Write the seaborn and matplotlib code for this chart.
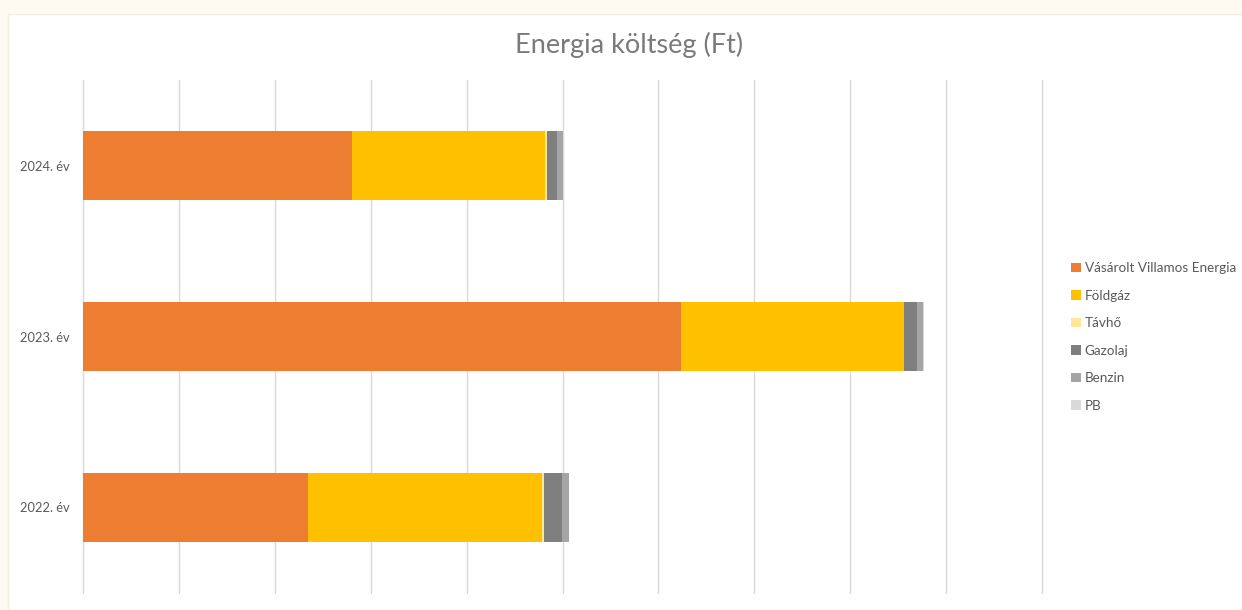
import numpy as np
import pandas as pd
import matplotlib
matplotlib.use('Agg')
import matplotlib.pyplot as plt
import seaborn as sns
from matplotlib.patches import Patch, Rectangle

# Data (million Ft)
years = ['2024. év', '2023. év', '2022. év']
series = ['Vásárolt Villamos Energia', 'Földgáz', 'Távhő', 'Gazolaj', 'Benzin', 'PB']
villamos = [56.1, 124.7, 46.9]
foldgaz = [40.2, 46.5, 48.8]
tavho = [0.5, 0.1, 0.4]
gazolaj = [2.1, 2.7, 3.75]
benzin = [1.25, 1.25, 1.45]
pb = [0.1, 0.1, 0.1]
colors = ['#ED7D31', '#FFC000', '#FFE699', '#7F7F7F', '#A5A5A5', '#D9D9D9']

df = pd.DataFrame({'Év': years, 'Vásárolt Villamos Energia': villamos, 'Földgáz': foldgaz,
                   'Távhő': tavho, 'Gazolaj': gazolaj, 'Benzin': benzin, 'PB': pb})
cum = df[series].cumsum(axis=1)
cum['Év'] = df['Év']

sns.set_style('white')
plt.rcParams['font.family'] = ['Lato', 'DejaVu Sans']
text_col = '#595959'

fig = plt.figure(figsize=(12.42, 6.10), dpi=100, facecolor='#FFFAF1')
# white chart panel behind the axes
fig.patches.append(Rectangle((8 / 1242, 0), 1 - 8 / 1242, 1 - 14 / 610, transform=fig.transFigure,
                             facecolor='white', edgecolor='#F3EEE6', linewidth=1, zorder=-10))
ax = fig.add_axes([83 / 1242, 1 - 593 / 610, (1042 - 83) / 1242, (593 - 80) / 610])
ax.set_facecolor('none')
ax.set_zorder(5)

# stacked bars: draw cumulative totals from the outermost inwards
for name, col in reversed(list(zip(series, colors))):
    sns.barplot(data=cum, y='Év', x=name, orient='h', color=col, width=0.4,
                linewidth=0, saturation=1, ax=ax, order=years)

ax.set_xlim(0, 200)
ax.set_ylim(2.5, -0.5)
ax.set_xticks(np.arange(0, 201, 20))
ax.set_xticklabels([])
ax.grid(axis='x', color='#D9D9D9', linewidth=1)
for gl in ax.get_xgridlines():
    gl.set_clip_on(False)
ax.set_axisbelow(True)
ax.set_xlabel('')
ax.set_ylabel('')
for s in ax.spines.values():
    s.set_visible(False)
ax.tick_params(axis='both', length=0)
ax.tick_params(axis='y', labelsize=9.3, labelcolor=text_col, pad=9.4)

fig.text(629 / 1242, 1 - 45 / 610, 'Energia költség (Ft)', ha='center', va='center',
         fontsize=19.5, color='#7A7A7A')

handles = [Patch(facecolor=c, edgecolor='none') for c in colors]
fig.legend(handles, series, loc='center left', bbox_to_anchor=(1059 / 1242, 1 - 337 / 610),
           frameon=False, fontsize=9.7, labelcolor=text_col, handlelength=0.7, handleheight=0.7,
           handletextpad=0.3, labelspacing=1.15)

fig.savefig('out.png', dpi=100, facecolor=fig.get_facecolor())
